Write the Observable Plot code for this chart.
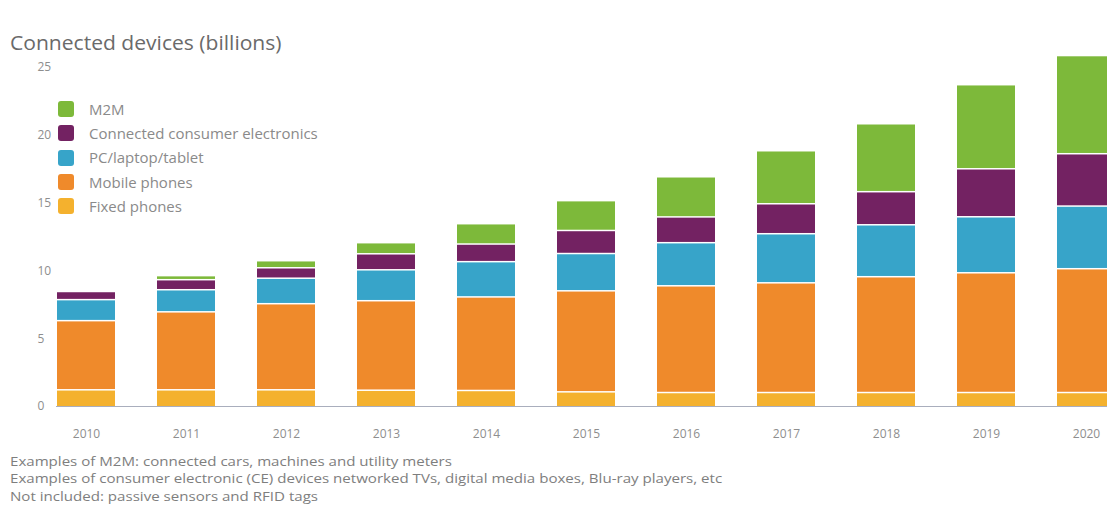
<!DOCTYPE html>
<html>
<head>
<meta charset="utf-8">
<script src="https://cdn.jsdelivr.net/npm/d3@7"></script>
<script src="https://cdn.jsdelivr.net/npm/@observablehq/plot@0.6"></script>
<style>
  body { margin: 0; background: #fff; font-family: "Open Sans", "DejaVu Sans", sans-serif; }
  #wrap { position: relative; width: 1107px; height: 506px; overflow: hidden; }
  #title { height: 17px; padding-top: 33px; line-height: 19px; font-size: 19.5px; color: #6a6a6a; padding-left: 10px; white-space: nowrap; }
  #title span { display: inline-block; transform: scaleX(1.08); transform-origin: 0 50%; }
  #chart { height: 396px; }
  #legend { position: absolute; left: 58px; top: 97px; }
  .row { height: 24.3px; display: flex; align-items: center; font-size: 14px; color: #8a8a8a; white-space: nowrap; }
  .row span { display: inline-block; transform: scaleX(1.07); transform-origin: 0 50%; }
  .sw { width: 16px; height: 16px; border-radius: 3px; margin-right: 15px; }
  #caption { padding-top: 6.5px; padding-left: 10px; font-size: 13px; line-height: 17.5px; color: #7e7e7e; white-space: nowrap; }
  #caption div { transform: scaleX(1.16); transform-origin: 0 50%; }
</style>
</head>
<body>
<div id="wrap">
  <div id="title"></div>
  <div id="chart"></div>
  <div id="caption"></div>
  <div id="legend"></div>
</div>
<script>
const years = ["2010","2011","2012","2013","2014","2015","2016","2017","2018","2019","2020"];
const seriesNames = ["Fixed phones","Mobile phones","PC/laptop/tablet","Connected consumer electronics","M2M"];
const fixedPhones = [1.25,1.25,1.25,1.22,1.2,1.1,1.05,1.05,1.05,1.05,1.05];
const mobilePhones = [5.1,5.75,6.35,6.6,6.9,7.45,7.87,8.09,8.54,8.83,9.13];
const pcLaptopTablet = [1.55,1.63,1.88,2.28,2.6,2.75,3.18,3.62,3.83,4.13,4.62];
const consumerElectronics = [0.6,0.74,0.77,1.18,1.3,1.7,1.9,2.21,2.44,3.54,3.86];
const m2m = [0.05,0.3,0.52,0.82,1.5,2.2,2.96,3.91,5.01,6.2,7.24];
const seriesColors = ["#f4b12e","#ef8a2b","#37a4c9","#732262","#7db93a"];
const yTicks = [0,5,10,15,20,25];
const titleText = "Connected devices (billions)";
const captionLines = [
  "Examples of M2M: connected cars, machines and utility meters",
  "Examples of consumer electronic (CE) devices networked TVs, digital media boxes, Blu-ray players, etc",
  "Not included: passive sensors and RFID tags"
];
const legendOrder = ["M2M","Connected consumer electronics","PC/laptop/tablet","Mobile phones","Fixed phones"];

const seriesValues = [fixedPhones, mobilePhones, pcLaptopTablet, consumerElectronics, m2m];
const data = [];
seriesNames.forEach((s, si) => years.forEach((y, i) => data.push({year: y, series: s, value: seriesValues[si][i]})));

const chart = Plot.plot({
  width: 1107,
  height: 396,
  marginTop: 17,
  marginBottom: 40,
  marginLeft: 56,
  marginRight: 0,
  style: {fontFamily: "'Open Sans', 'DejaVu Sans', sans-serif", fontSize: "12px", color: "#888", background: "transparent"},
  x: {domain: years, range: [13.8, 1159], padding: 0.42, label: null},
  y: {domain: [0, 25], ticks: yTicks, label: null},
  color: {domain: seriesNames, range: seriesColors},
  marks: [
    Plot.axisY({ticks: yTicks, tickSize: 0, tickPadding: 0, textAnchor: "start", dx: -19, label: null, fill: "#8e8e8e"}),
    Plot.axisX({tickSize: 0, tickPadding: 23, label: null, fill: "#8e8e8e"}),
    Plot.barY(data, Plot.stackY({
      x: "year", y: "value", fill: "series",
      order: seriesNames, insetTop: 1.5
    })),
    Plot.ruleY([0], {stroke: "#a9aebd", strokeWidth: 1})
  ]
});
document.getElementById("chart").appendChild(chart);
document.getElementById("title").innerHTML = `<span>${titleText}</span>`;
document.getElementById("caption").innerHTML = captionLines.map(l => `<div>${l}</div>`).join("");
const leg = document.getElementById("legend");
legendOrder.forEach(name => {
  const c = seriesColors[seriesNames.indexOf(name)];
  const row = document.createElement("div");
  row.className = "row";
  row.innerHTML = `<div class="sw" style="background:${c}"></div><span>${name}</span>`;
  leg.appendChild(row);
});
</script>
</body>
</html>
